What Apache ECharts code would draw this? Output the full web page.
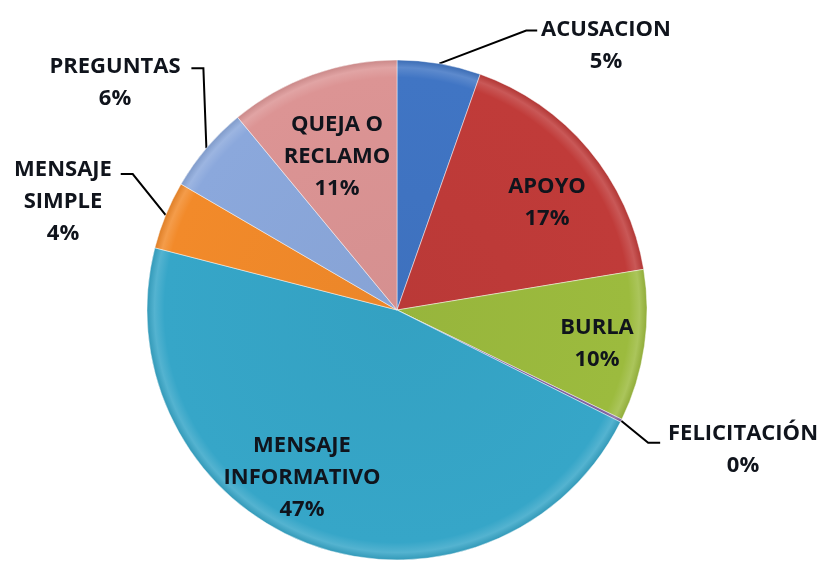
<!DOCTYPE html>
<html>
<head>
<meta charset="utf-8">
<script src="https://cdn.jsdelivr.net/npm/echarts@6/dist/echarts.min.js"></script>
<style>
  html, body { margin: 0; padding: 0; background: #fff; }
  #main { width: 824px; height: 564px; }
</style>
</head>
<body>
<div id="main"></div>
<script>
// categorias y valores (porcentaje aproximado)
var categorias = ['ACUSACION', 'APOYO', 'BURLA', 'FELICITACIÓN', 'MENSAJE\nINFORMATIVO', 'MENSAJE\nSIMPLE', 'PREGUNTAS', 'QUEJA O\nRECLAMO'];
var valores = [5.4, 17.0, 9.8, 0.2, 46.6, 4.4, 5.6, 11.0];
var colores = ['#4075c4', '#c03b39', '#9cbb3e', '#8064a2', '#36a6c8', '#f28a2a', '#8ba8dc', '#dc9494'];

var cx = 397, cy = 310, radio = 250;

// posicion de cada etiqueta (centro del bloque) y quiebre de la linea guia
var posEtiqueta = {
    0: { x: 606, y: 46, linea: [[87, -33], [98, -33]] },
    1: { x: 547, y: 203 },
    2: { x: 597, y: 344 },
    3: { x: 743, y: 450, linea: [[27, 22], [39, 22]] },
    4: { x: 302, y: 478 },
    5: { x: 63, y: 202, linea: [[-33, -41], [-45, -41]] },
    6: { x: 115, y: 83, linea: [[-3, -80], [-15, -80]] },
    7: { x: 337, y: 157 }
};

function aclarar(hex, f) {
    var n = parseInt(hex.slice(1), 16);
    var r = (n >> 16) & 255, g = (n >> 8) & 255, b = n & 255;
    if (f >= 0) {
        r = r + (255 - r) * f; g = g + (255 - g) * f; b = b + (255 - b) * f;
    } else {
        r = r * (1 + f); g = g * (1 + f); b = b * (1 + f);
    }
    return 'rgb(' + Math.round(r) + ',' + Math.round(g) + ',' + Math.round(b) + ')';
}

function relleno(c) {
    return {
        type: 'radial', x: cx, y: cy, r: radio, global: true,
        colorStops: [
            { offset: 0, color: aclarar(c, -0.03) },
            { offset: 0.93, color: c },
            { offset: 0.97, color: aclarar(c, 0.15) },
            { offset: 1, color: aclarar(c, -0.08) }
        ]
    };
}

var datos = [];
for (var i = 0; i < categorias.length; i++) {
    var fuera = posEtiqueta[i].linea != null;
    datos.push({
        name: categorias[i],
        value: valores[i],
        itemStyle: { color: relleno(colores[i]) },
        label: { position: fuera ? 'outside' : 'inside' },
        labelLine: { show: fuera }
    });
}

var myChart = echarts.init(document.getElementById('main'));
var option = {
    backgroundColor: '#ffffff',
    animation: false,
    series: [
        {
            type: 'pie',
            center: [cx, cy],
            radius: [0, radio],
            startAngle: 90,
            clockwise: true,
            avoidLabelOverlap: false,
            itemStyle: {
                borderColor: 'rgba(255,255,255,0.45)',
                borderWidth: 1
            },
            label: {
                show: true,
                formatter: function (p) {
                    return p.name + '\n' + Math.round(p.percent) + '%';
                },
                fontFamily: 'Open Sans',
                fontWeight: 'bold',
                fontSize: 22,
                lineHeight: 32,
                color: '#10141c',
                align: 'center'
            },
            labelLine: {
                length: 20,
                length2: 10,
                lineStyle: { color: '#000', width: 2 }
            },
            labelLayout: function (params) {
                var p = posEtiqueta[params.dataIndex];
                var res = { x: p.x, y: p.y, align: 'center', verticalAlign: 'middle' };
                if (p.linea && params.labelLinePoints) {
                    var a = params.labelLinePoints[0];
                    res.labelLinePoints = [
                        [a[0], a[1]],
                        [a[0] + p.linea[0][0], a[1] + p.linea[0][1]],
                        [a[0] + p.linea[1][0], a[1] + p.linea[1][1]]
                    ];
                }
                return res;
            },
            data: datos
        }
    ]
};
myChart.setOption(option);
</script>
</body>
</html>
